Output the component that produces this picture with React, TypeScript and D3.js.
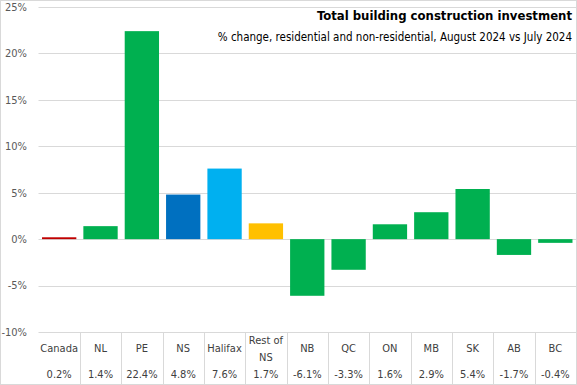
import React from 'react';
import * as d3 from 'd3';

const regions = ['Canada', 'NL', 'PE', 'NS', 'Halifax', 'Rest of NS', 'NB', 'QC', 'ON', 'MB', 'SK', 'AB', 'BC'];
const changes = [0.2, 1.4, 22.4, 4.8, 7.6, 1.7, -6.1, -3.3, 1.6, 2.9, 5.4, -1.7, -0.4];
const barColors = ['#C00000', '#00B050', '#00B050', '#0070C0', '#00B0F0', '#FFC000', '#00B050', '#00B050', '#00B050', '#00B050', '#00B050', '#00B050', '#00B050'];
const yTicks = [-10, -5, 0, 5, 10, 15, 20, 25];

const W = 577;
const H = 385;
const font = '"DejaVu Sans Condensed", "DejaVu Sans", sans-serif';

export default function App() {
  // Scales
  const x = d3.scaleBand<string>().domain(regions).range([38.5, 576]).paddingInner(0.17).paddingOuter(0.085);
  const y = d3.scaleLinear().domain([-10, 25]).range([332, 7]);
  const step = x.step();
  const x0 = x.range()[0];

  return (
    <svg width={W} height={H} style={{ display: 'block', position: 'absolute', left: 0, top: 0 }} fontFamily={font}>
      <rect x={0.5} y={0.5} width={W - 1} height={H - 1} fill="#fff" stroke="#D9D9D9" />

      {/* grid + y axis */}
      {yTicks.map(t => (
        <g key={t}>
          <line x1={x0} x2={576} y1={Math.round(y(t)) + 0.5} y2={Math.round(y(t)) + 0.5} stroke="#D9D9D9" />
          <text x={27} y={y(t)} dy="0.35em" textAnchor="end" fontSize={11} fill="#595959">
            {t}%
          </text>
        </g>
      ))}

      {/* bars */}
      {regions.map((r, i) => (
        <rect
          key={r}
          x={x(r)}
          width={x.bandwidth()}
          y={y(Math.max(0, changes[i]))}
          height={Math.abs(y(changes[i]) - y(0))}
          fill={barColors[i]}
        />
      ))}

      {/* data table */}
      {regions.map((r, i) => (
        <g key={'t' + r}>
          {i > 0 && (
            <line x1={Math.round(x0 + step * i) + 0.5} x2={Math.round(x0 + step * i) + 0.5} y1={332} y2={384} stroke="#D9D9D9" />
          )}
          {r === 'Rest of NS' ? (
            <text x={x(r)! + x.bandwidth() / 2} y={340} dy="0.35em" textAnchor="middle" fontSize={11} fill="#404040">
              <tspan x={x(r)! + x.bandwidth() / 2}>Rest of</tspan>
              <tspan x={x(r)! + x.bandwidth() / 2} dy={17}>NS</tspan>
            </text>
          ) : (
            <text x={x(r)! + x.bandwidth() / 2} y={348} dy="0.35em" textAnchor="middle" fontSize={11} fill="#404040">
              {r}
            </text>
          )}
          <text x={x(r)! + x.bandwidth() / 2} y={374} dy="0.35em" textAnchor="middle" fontSize={11} fill="#404040">
            {changes[i].toFixed(1)}%
          </text>
        </g>
      ))}

      {/* header */}
      <text x={572} y={20} textAnchor="end" fontSize={13} fontWeight="bold" fill="#000">
        Total building construction investment
      </text>
      <text x={572} y={41} textAnchor="end" fontSize={11.5} fill="#000">
        % change, residential and non-residential, August 2024 vs July 2024
      </text>
    </svg>
  );
}
